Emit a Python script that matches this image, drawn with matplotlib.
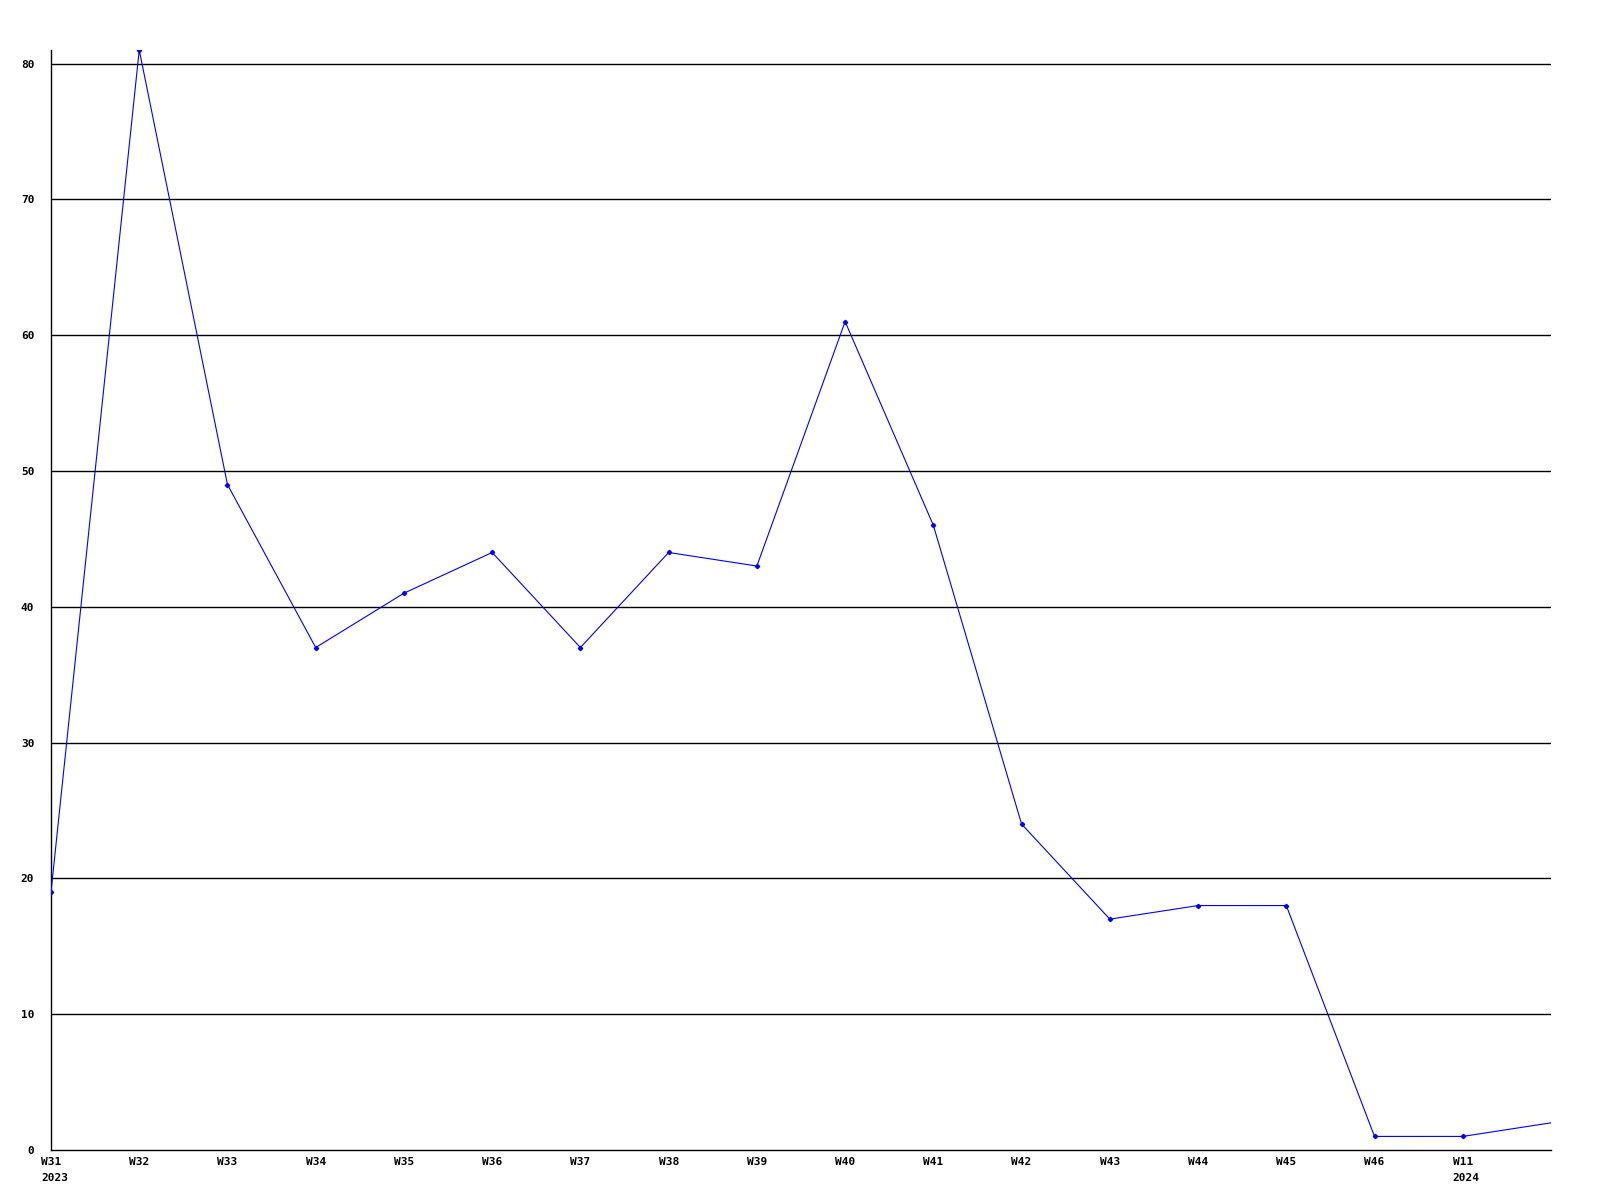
import matplotlib
matplotlib.use("Agg")
import matplotlib.pyplot as plt
import matplotlib.transforms as mtransforms

weeks = ["W31", "W32", "W33", "W34", "W35", "W36", "W37", "W38", "W39",
         "W40", "W41", "W42", "W43", "W44", "W45", "W46", "W11", ""]
years = {0: "2023", 16: "2024"}
values = [19, 81, 49, 37, 41, 44, 37, 44, 43, 61, 46, 24, 17, 18, 18, 1, 1, 2]
yticks = [0, 10, 20, 30, 40, 50, 60, 70, 80]

fig = plt.figure(figsize=(16, 12), dpi=100)
ax = fig.add_axes([51/1600, 1 - 1150/1200, 1500/1600, 1100/1200])

xs = list(range(len(values)))
ax.plot(xs, values, color="#0000ff", lw=0.8, marker="D", ms=2.2, zorder=3,
        markevery=list(range(len(values) - 1)))

ax.set_xlim(0, 17)
ax.set_ylim(0, 81)
for y in yticks[1:]:
    ax.axhline(y, color="black", lw=1.0, zorder=1)

font = dict(family="DejaVu Sans Mono", weight="bold", size=8)
ax.set_yticks(yticks)
ax.set_yticklabels([str(v) for v in yticks], **font)
ax.set_xticks(xs[:-1])
ax.set_xticklabels(weeks[:-1], **font)
ax.tick_params(axis="both", length=0)
ax.tick_params(axis="y", pad=12)
ax.tick_params(axis="x", pad=5)

for sp in ["top", "right"]:
    ax.spines[sp].set_visible(False)
for sp in ["left", "bottom"]:
    ax.spines[sp].set_linewidth(1.0)
    ax.spines[sp].set_color("black")

trans = ax.get_xaxis_transform()
for i, yr in years.items():
    off = mtransforms.offset_copy(trans, fig=fig, x=-10, y=-31, units="dots")
    ax.text(i, 0, yr, transform=off, ha="left", va="baseline", **font)

fig.savefig("out.png", dpi=100)
